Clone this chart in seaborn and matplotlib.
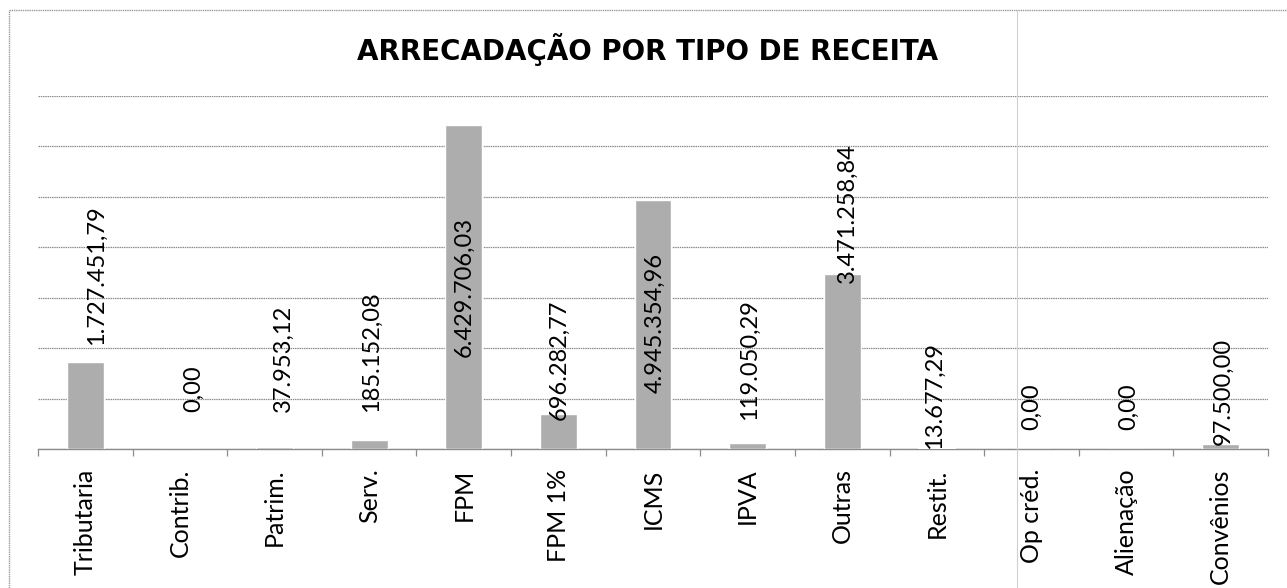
import matplotlib
matplotlib.use("Agg")
import matplotlib.pyplot as plt
import seaborn as sns
import pandas as pd
from matplotlib.lines import Line2D

# ---- data ----
categories = ['Tributaria', 'Contrib.', 'Patrim.', 'Serv.', 'FPM', 'FPM 1%', 'ICMS',
              'IPVA', 'Outras', 'Restit.', 'Op créd.', 'Alienação', 'Convênios']
values = [1727451.79, 0.00, 37953.12, 185152.08, 6429706.03, 696282.77, 4945354.96,
          119050.29, 3471258.84, 13677.29, 0.00, 0.00, 97500.00]
# where each (rotated) value label starts, in the chart's value units (as in the picture)
label_base = [2070000, 740000, 740000, 740000, 1830000, 580000, 1110000,
              580000, 3300000, 0, 380000, 380000, 80000]
label_shift = [0.12, 0.14, 0.09, 0.02, 0.0, 0.01, 0.02, 0.02, 0.05, -0.03, 0.0, 0.03, 0.03]
title = 'ARRECADAÇÃO POR TIPO DE RECEITA'


def br(v):
    s = f"{v:,.2f}"
    return s.replace(',', '#').replace('.', ',').replace('#', '.')


df = pd.DataFrame({'cat': categories, 'val': values})

sns.set_theme(style='white')
plt.rcParams['font.family'] = ['Lato', 'DejaVu Sans']

fig = plt.figure(figsize=(12.87, 5.88), dpi=100)
ax = fig.add_axes([38 / 1287, 1 - 449 / 588, (1268 - 38) / 1287, (449 - 96) / 588])

sns.barplot(data=df, x='cat', y='val', color='#adadad', width=0.39,
            saturation=1, ax=ax, zorder=3)

ax.set_ylim(0, 7_000_000)
ax.set_xlim(-0.5, len(categories) - 0.5)
ax.set_yticks(range(0, 7_000_001, 1_000_000))
ax.set_yticklabels([])
ax.tick_params(axis='y', length=0)
ax.yaxis.grid(True, color='#8c8c8c', linewidth=0.9, linestyle=(0, (1.2, 0.6)), zorder=0)
ax.xaxis.grid(False)
ax.set_axisbelow(True)
for s in ['left', 'right', 'top']:
    ax.spines[s].set_visible(False)
ax.spines['bottom'].set_color('#8c8c8c')
ax.spines['bottom'].set_linewidth(1.0)
ax.set_xlabel('')
ax.set_ylabel('')

# category labels (rotated) and boundary tick marks
ax.set_xticks(range(len(categories)))
ax.set_xticklabels(categories, rotation=90, fontsize=18, color='black')
ax.tick_params(axis='x', which='major', length=0, pad=14)
ax.set_xticks([i - 0.5 for i in range(len(categories) + 1)], minor=True)
ax.tick_params(axis='x', which='minor', bottom=True, length=5, width=0.9,
               color='#8c8c8c', direction='out')

# value labels
for i, (v, b, dx) in enumerate(zip(values, label_base, label_shift)):
    ax.text(i + dx, b, br(v), rotation=90, ha='center', va='bottom',
            fontsize=17, color='black', zorder=5)

fig.text(0.503, 1 - 49 / 588, title, ha='center', va='center',
         fontsize=20, fontweight='bold', family='DejaVu Sans', color='black')

# outer frame lines of the scanned page
fig.add_artist(Line2D([9 / 1287, 1.0], [1 - 10 / 588] * 2, transform=fig.transFigure,
                      color='#9a9a9a', linewidth=1.0, linestyle=(0, (1, 0.6))))
fig.add_artist(Line2D([9 / 1287] * 2, [0.0, 1 - 10 / 588], transform=fig.transFigure,
                      color='#9a9a9a', linewidth=1.0, linestyle=(0, (1, 0.6))))
fig.add_artist(Line2D([1017 / 1287] * 2, [0.0, 1 - 10 / 588], transform=fig.transFigure,
                      color='#d0d0d0', linewidth=0.8))

fig.savefig('out.png', dpi=100, facecolor='white')
